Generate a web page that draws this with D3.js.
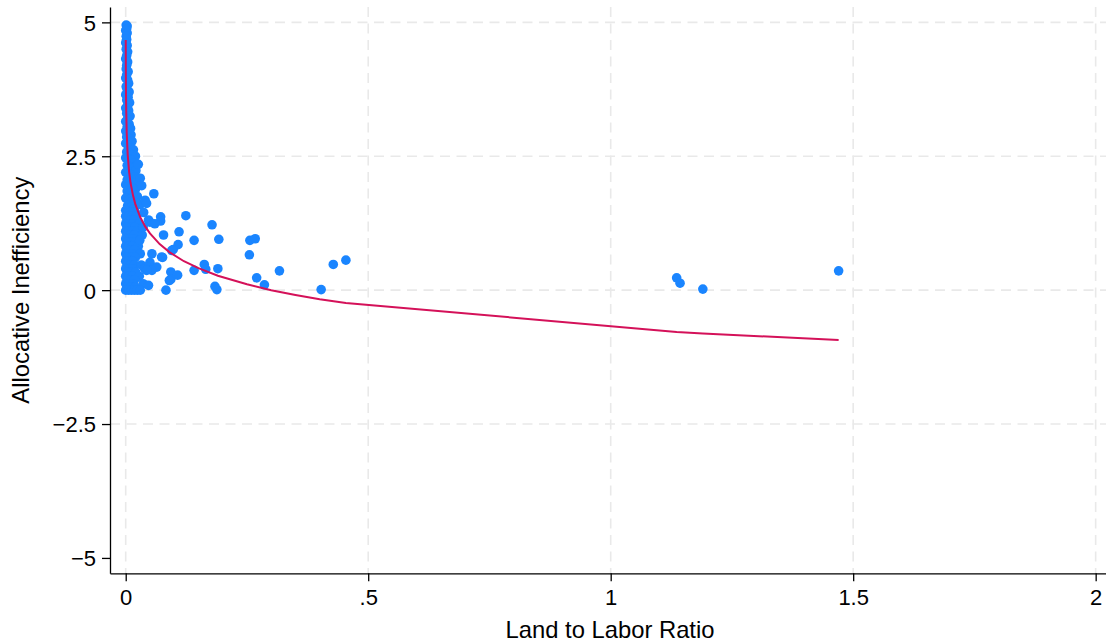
<!DOCTYPE html>
<html>
<head>
<meta charset="utf-8">
<script src="https://cdn.jsdelivr.net/npm/d3@7"></script>
<style>
  html, body { margin: 0; padding: 0; background: #fff; }
  svg { display: block; font-family: "Liberation Sans", Arial, Helvetica, sans-serif; }
</style>
</head>
<body>
<svg id="chart" width="1106" height="643"></svg>
<script>
// Observations near the origin: land-to-labor ratio, allocative inefficiency
const clusterPoints = [
  [0.001,4.95],[0.003,4.93],[0.002,4.88],[0.0,4.85],[0.003,4.80],[0.001,4.74],[0.002,4.68],[0.0,4.62],
  [0.003,4.57],[0.001,4.50],[0.004,4.45],[0.002,4.38],[0.0,4.32],[0.004,4.26],[0.002,4.20],[0.001,4.13],
  [0.005,4.08],[0.002,4.02],[0.0,3.96],[0.004,3.92],[0.006,3.86],[0.001,3.80],[0.003,3.75],[0.007,3.70],
  [0.0,3.65],[0.005,3.60],[0.002,3.55],[0.008,3.50],[0.004,3.45],[0.0,3.40],[0.006,3.35],[0.002,3.30],
  [0.009,3.25],[0.004,3.20],[0.0,3.15],[0.007,3.10],[0.003,3.05],[0.010,3.02],[0.0,2.97],[0.005,2.93],
  [0.011,2.90],[0.002,2.86],[0.008,2.82],[0.013,2.78],[0.0,2.74],[0.005,2.70],[0.010,2.66],[0.016,2.62],
  [0.002,2.58],[0.008,2.55],[0.014,2.52],[0.020,2.50],[0.0,2.47],[0.006,2.44],[0.012,2.42],[0.018,2.38],
  [0.024,2.35],[0.003,2.33],[0.009,2.30],[0.015,2.27],[0.021,2.23],[0.0,2.20],[0.006,2.17],[0.012,2.14],
  [0.019,2.11],[0.026,2.09],[0.003,2.06],[0.009,2.03],[0.016,2.00],[0.0,1.97],[0.006,1.94],[0.013,1.91],
  [0.020,1.88],[0.003,1.85],[0.010,1.82],[0.017,1.78],[0.024,1.75],[0.0,1.72],[0.007,1.69],[0.014,1.66],
  [0.021,1.63],[0.030,1.60],[0.004,1.58],[0.011,1.55],[0.018,1.52],[0.0,1.49],
  [0.002,1.45],[0.009,1.45],[0.016,1.45],
  [0.0,1.38],[0.006,1.38],[0.013,1.38],[0.022,1.38],
  [0.003,1.31],[0.010,1.31],[0.017,1.31],
  [0.0,1.24],[0.007,1.24],[0.014,1.24],[0.028,1.24],
  [0.003,1.17],[0.011,1.17],[0.019,1.17],
  [0.0,1.10],[0.006,1.10],[0.014,1.10],[0.024,1.10],
  [0.003,1.03],[0.010,1.03],[0.018,1.03],[0.034,1.03],
  [0.0,0.96],[0.007,0.96],[0.015,0.96],
  [0.003,0.89],[0.011,0.89],[0.020,0.89],
  [0.0,0.82],[0.006,0.82],[0.014,0.82],[0.026,0.82],
  [0.003,0.75],[0.010,0.75],[0.018,0.75],
  [0.0,0.68],[0.007,0.68],[0.015,0.68],[0.030,0.68],
  [0.003,0.61],[0.011,0.61],[0.020,0.61],
  [0.0,0.54],[0.006,0.54],[0.014,0.54],
  [0.003,0.47],[0.010,0.47],[0.018,0.47],[0.032,0.47],
  [0.0,0.40],[0.007,0.40],[0.015,0.40],
  [0.003,0.33],[0.011,0.33],[0.021,0.33],
  [0.0,0.26],[0.006,0.26],[0.014,0.26],[0.028,0.26],
  [0.003,0.19],[0.010,0.19],[0.018,0.19],
  [0.0,0.12],[0.007,0.12],[0.015,0.12],[0.036,0.12],
  [0.003,0.06],[0.011,0.06],[0.020,0.06],
  [0.0,0.0],[0.006,0.0],[0.012,0.0],[0.018,0.0],[0.024,0.0],[0.030,0.0]
];

// Observations further out along the ratio axis
const outlierPoints = [
  [0.030,2.09],[0.026,2.35],[0.033,1.95],[0.040,1.68],[0.043,1.62],[0.037,1.45],[0.047,1.31],
  [0.036,1.18],[0.029,0.93],[0.058,1.80],[0.124,1.39],[0.072,1.37],[0.072,1.29],[0.050,1.27],
  [0.060,1.24],[0.178,1.22],[0.110,1.09],[0.078,1.03],[0.141,0.93],[0.192,0.95],[0.256,0.93],
  [0.267,0.96],[0.108,0.85],[0.098,0.76],[0.095,0.74],[0.255,0.66],[0.054,0.68],[0.076,0.61],
  [0.074,0.62],[0.050,0.52],[0.043,0.43],[0.064,0.43],[0.054,0.37],[0.039,0.40],[0.043,0.37],
  [0.162,0.48],[0.165,0.39],[0.190,0.40],[0.141,0.37],[0.093,0.34],[0.107,0.28],[0.093,0.20],
  [0.090,0.18],[0.270,0.23],[0.286,0.10],[0.184,0.07],[0.188,0.01],[0.083,0.0],[0.047,0.09],
  [0.317,0.36],[0.403,0.01],[0.428,0.48],[0.454,0.56],
  [1.136,0.23],[1.143,0.13],[1.190,0.02],[1.470,0.36]
];

// Fitted values, joined in order of the ratio
const fitLine = [
  [0.0001,4.67],[0.0003,4.07],[0.0006,3.66],[0.001,3.36],[0.002,2.95],[0.004,2.54],[0.007,2.21],
  [0.01,2.00],[0.015,1.77],[0.02,1.60],[0.03,1.36],[0.04,1.19],[0.05,1.06],[0.07,0.86],[0.09,0.71],
  [0.12,0.54],[0.15,0.41],[0.19,0.27],[0.25,0.11],[0.30,0.0],[0.35,-0.09],[0.40,-0.17],[0.454,-0.24],
  [1.136,-0.78],[1.19,-0.81],[1.47,-0.93]
];

const xTicks = [0, 0.5, 1, 1.5, 2];
const xTickLabels = ["0", ".5", "1", "1.5", "2"];
const yTicks = [-5, -2.5, 0, 2.5, 5];
const yTickLabels = ["\u22125", "\u22122.5", "0", "2.5", "5"];

const svg = d3.select("#chart");
const plotLeft = 110, plotRight = 1106, plotTop = 7, plotBottom = 573.3;

const x = d3.scaleLinear().domain([-0.0324, 2.0213]).range([plotLeft, plotRight]);
const y = d3.scaleLinear().domain([-5.287, 5.287]).range([plotBottom, plotTop]);

// Gridlines
const grid = svg.append("g").attr("stroke", "#e9e9e9").attr("stroke-width", 1.6)
  .attr("stroke-dasharray", "10,6.5").attr("fill", "none");
grid.selectAll("line.v").data(xTicks).join("line").attr("class", "v")
  .attr("x1", d => x(d)).attr("x2", d => x(d)).attr("y1", plotTop).attr("y2", plotBottom);
grid.selectAll("line.h").data(yTicks.filter(d => d !== -5)).join("line").attr("class", "h")
  .attr("x1", plotLeft).attr("x2", plotRight).attr("y1", d => y(d)).attr("y2", d => y(d));

// Scatter points
const allPoints = clusterPoints.concat(outlierPoints);
svg.append("g").selectAll("circle").data(allPoints).join("circle")
  .attr("cx", d => x(d[0])).attr("cy", d => y(d[1])).attr("r", 4.8)
  .attr("fill", "#1A85FF");

// Fitted curve
svg.append("path").datum(fitLine)
  .attr("fill", "none").attr("stroke", "#D41159").attr("stroke-width", 2)
  .attr("d", d3.line().x(d => x(d[0])).y(d => y(d[1])));

// Axes
const xAxis = d3.axisBottom(x).tickValues(xTicks)
  .tickFormat((d, i) => xTickLabels[i]).tickSize(8).tickSizeOuter(0).tickPadding(8);
const yAxis = d3.axisLeft(y).tickValues(yTicks)
  .tickFormat((d, i) => yTickLabels[i]).tickSize(8).tickSizeOuter(0).tickPadding(6);

const gx = svg.append("g").attr("transform", `translate(0,${plotBottom})`).call(xAxis);
const gy = svg.append("g").attr("transform", `translate(${plotLeft},0)`).call(yAxis);
[gx, gy].forEach(g => {
  g.selectAll("path, line").attr("stroke", "#000").attr("stroke-width", 1.3);
  g.selectAll("text").attr("fill", "#000").style("font-size", "22px")
    .style("font-family", "'Liberation Sans', Arial, Helvetica, sans-serif");
});
gy.selectAll("text").attr("dy", "0.36em");

// Axis titles
svg.append("text").attr("x", (plotLeft + plotRight) / 2 + 2).attr("y", 638)
  .attr("text-anchor", "middle").style("font-size", "23.8px").attr("fill", "#000")
  .text("Land to Labor Ratio");
svg.append("text").attr("transform", `translate(29,${(plotTop + plotBottom) / 2}) rotate(-90)`)
  .attr("text-anchor", "middle").style("font-size", "23.8px").attr("fill", "#000")
  .text("Allocative Inefficiency");
</script>
</body>
</html>
